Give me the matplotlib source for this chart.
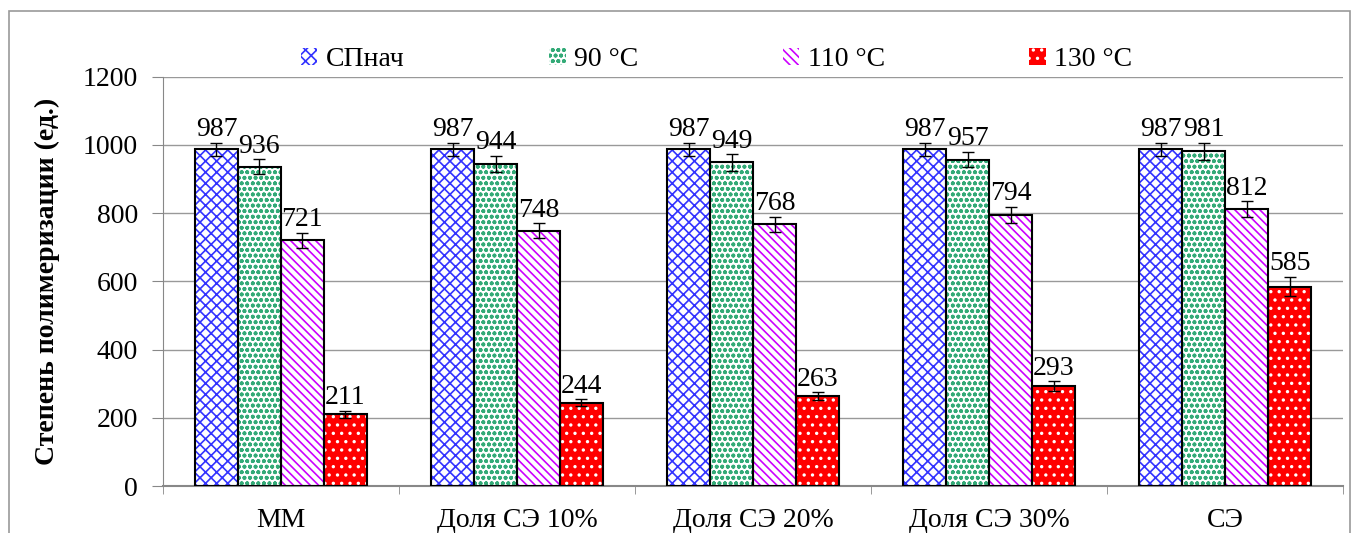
import matplotlib

matplotlib.use("Agg")
import matplotlib.pyplot as plt
import numpy as np
from matplotlib.patches import Rectangle

plt.rcParams["font.family"] = ["Liberation Serif", "DejaVu Serif"]
plt.rcParams["hatch.linewidth"] = 1.2

categories = ["ММ", "Доля СЭ 10%", "Доля СЭ 20%", "Доля СЭ 30%", "СЭ"]
series = ["СПнач", "90 °C", "110 °C", "130 °C"]
sp_init = [987, 987, 987, 987, 987]
t90 = [936, 944, 949, 957, 981]
t110 = [721, 748, 768, 794, 812]
t130 = [211, 244, 263, 293, 585]
err_init = [20, 20, 20, 20, 20]
err90 = [22, 24, 24, 22, 25]
err110 = [22, 22, 22, 24, 23]
err130 = [10, 10, 12, 14, 28]

values = [sp_init, t90, t110, t130]
errors = [err_init, err90, err110, err130]
faces = ["white", "white", "white", "#FF0000"]
hatch_cols = ["#3333FF", "#33AA77", "#CC00FF", "white"]
hatches = ["xxx", "ooo", "\\\\\\\\", ".."]

fig = plt.figure(figsize=(13.57, 5.33), dpi=100)
ax = fig.add_axes([0.120, 0.088, 0.870, 0.768])

x = np.arange(len(categories))
w = 0.182
handles = []
for i, (vals, errs) in enumerate(zip(values, errors)):
    pos = x + (i - 1.5) * w
    ax.bar(pos, vals, w, color=faces[i], edgecolor=hatch_cols[i], hatch=hatches[i], lw=0, zorder=2)
    ax.bar(pos, vals, w, color="none", edgecolor="black", lw=1.5, zorder=3)
    ax.errorbar(pos, vals, yerr=errs, fmt="none", ecolor="black", elinewidth=1, capsize=4, zorder=4)
    for p, v, e in zip(pos, vals, errs):
        ax.text(p, v + e + 2, str(v), ha="center", va="bottom", fontsize=20, zorder=5)
    handles.append(Rectangle((0, 0), 1, 1, facecolor=faces[i], edgecolor=hatch_cols[i], hatch=hatches[i], lw=0))

ax.set_xlim(-0.5, len(categories) - 0.5)
ax.set_ylim(0, 1200)
ax.set_yticks(range(0, 1201, 200))
ax.set_xticks(x)
ax.set_xticklabels(categories, fontsize=20)
ax.set_xticks(np.arange(-0.5, len(categories), 1), minor=True)
ax.tick_params(axis="x", which="major", length=0, pad=16)
ax.tick_params(axis="x", which="minor", length=6, color="#888888")
ax.tick_params(axis="y", labelsize=20, length=8, pad=10, color="#888888")
ax.grid(axis="y", color="#999999", lw=1, zorder=0)
ax.set_axisbelow(True)
for s in ["top", "right"]:
    ax.spines[s].set_visible(False)
for s in ["left", "bottom"]:
    ax.spines[s].set_color("#888888")
ax.spines["bottom"].set_linewidth(1.5)
ax.set_ylabel("Степень полимеризации (ед.)", fontsize=20, fontweight="bold", labelpad=16)

fig.legend(handles, series, loc="center", bbox_to_anchor=(0.528, 0.888), ncol=4, frameon=False,
           fontsize=20, handlelength=0.6, handleheight=0.6, handletextpad=0.3, columnspacing=5.2)

fig.patches.append(Rectangle((0.007, -0.01), 0.988, 0.99, transform=fig.transFigure,
                             fill=False, edgecolor="#999999", lw=1.2))

fig.savefig("out.png", dpi=100)
plt.close(fig)
